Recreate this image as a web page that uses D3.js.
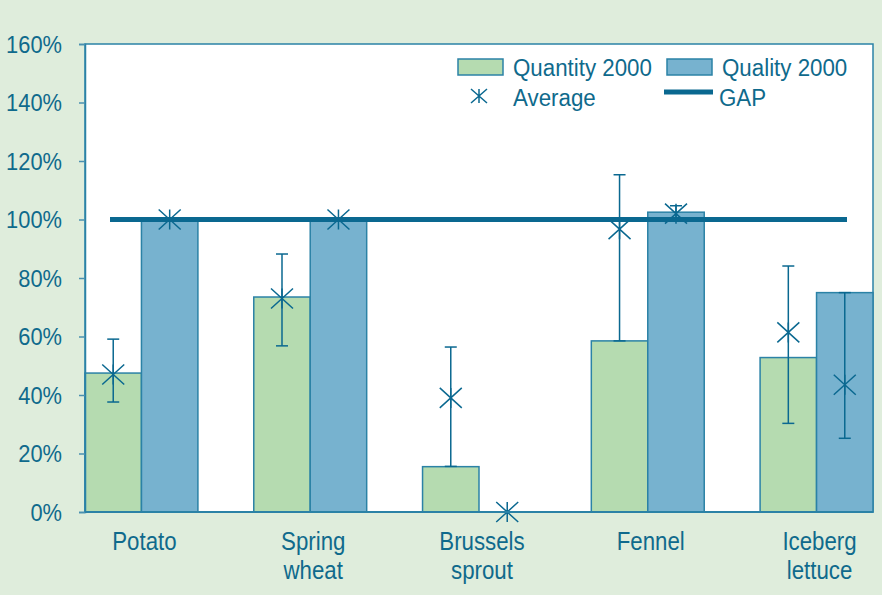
<!DOCTYPE html>
<html>
<head>
<meta charset="utf-8">
<script src="https://cdn.jsdelivr.net/npm/d3@7"></script>
<style>
  html, body { margin: 0; padding: 0; background: #dfeddc; }
  svg { display: block; }
  text { font-family: 'Liberation Sans', Arial, sans-serif; fill: #0f6a8c; }
</style>
</head>
<body>
<svg id="chart" width="882" height="595"></svg>
<script>
const categories = ["Potato", "Spring wheat", "Brussels sprout", "Fennel", "Iceberg lettuce"];
const series = ["Quantity 2000", "Quality 2000"];
const quantity = [47.5, 73.5, 15.5, 58.5, 52.8];
const quality = [100, 100, 0, 102.5, 75];
const quantityAvg = [47, 73, 39, 96.7, 61.4];
const quantityLow = [37.6, 56.8, 15.6, 58.5, 30.3];
const quantityHigh = [59.1, 88.2, 56.4, 115.3, 84.1];
const qualityAvg = [100, 100, 0, 102, 43.5];
const qualityLow = [100, 100, 0, 100, 25.2];
const qualityHigh = [100, 100, 0, 104.7, 75];
const gap = 100;
const yTicks = [0, 20, 40, 60, 80, 100, 120, 140, 160];

const colors = { green: "#b5dbb0", blue: "#77b2cf", stroke: "#2b82a6", dark: "#0a6890", bg: "#dfeddc" };

const svg = d3.select("#chart");
const W = 882, H = 595;
const m = { left: 85, right: 9, top: 44, bottom: 83 };
const pw = W - m.left - m.right, ph = H - m.top - m.bottom;

svg.append("rect").attr("width", W).attr("height", H).attr("fill", colors.bg);

const x = d3.scaleBand().domain(categories).range([m.left, m.left + pw]).paddingInner(0.331).paddingOuter(0).align(0);
const xs = d3.scaleBand().domain(series).range([0, x.bandwidth()]);
const y = d3.scaleLinear().domain([0, 160]).range([m.top + ph, m.top]);

// condensed text helper
function ctext(parent, tx, ty, str, size, sx, anchor) {
  const gg = parent.append("g").attr("transform", `translate(${tx},${ty}) scale(${sx},1)`);
  gg.append("text").attr("font-size", size).attr("text-anchor", anchor || "start").text(str);
  return gg;
}

// plot area
svg.append("rect").attr("x", m.left).attr("y", m.top).attr("width", pw).attr("height", ph)
  .attr("fill", "#fff").attr("stroke", colors.stroke).attr("stroke-width", 1.5);

const rows = categories.map((c, i) => ({
  c, vals: [
    { s: series[0], v: quantity[i], avg: quantityAvg[i], lo: quantityLow[i], hi: quantityHigh[i], fill: colors.green },
    { s: series[1], v: quality[i], avg: qualityAvg[i], lo: qualityLow[i], hi: qualityHigh[i], fill: colors.blue }
  ]
}));

const g = svg.selectAll("g.cat").data(rows).join("g").attr("class", "cat")
  .attr("transform", d => `translate(${x(d.c)},0)`);

g.selectAll("rect.bar").data(d => d.vals).join("rect").attr("class", "bar")
  .attr("x", d => xs(d.s)).attr("width", xs.bandwidth())
  .attr("y", d => y(d.v)).attr("height", d => y(0) - y(d.v))
  .attr("fill", d => d.fill).attr("stroke", colors.stroke).attr("stroke-width", 1.5);

// GAP line
svg.append("line").attr("x1", x.range()[0] + 25).attr("x2", x.range()[1] - 26)
  .attr("y1", y(gap)).attr("y2", y(gap)).attr("stroke", colors.dark).attr("stroke-width", 5);

// error bars
const eb = g.selectAll("g.err").data(d => d.vals.filter(v => v.hi > v.lo)).join("g").attr("class", "err")
  .attr("stroke", colors.dark).attr("stroke-width", 1.5);
const cx = d => xs(d.s) + xs.bandwidth() / 2;
eb.append("line").attr("x1", cx).attr("x2", cx).attr("y1", d => y(d.lo)).attr("y2", d => y(d.hi));
eb.append("line").attr("x1", d => cx(d) - 6).attr("x2", d => cx(d) + 6).attr("y1", d => y(d.lo)).attr("y2", d => y(d.lo));
eb.append("line").attr("x1", d => cx(d) - 6).attr("x2", d => cx(d) + 6).attr("y1", d => y(d.hi)).attr("y2", d => y(d.hi));

function star(sel, hw, hh) {
  sel.append("path").attr("fill", "none").attr("stroke", colors.dark).attr("stroke-width", 1.5)
    .attr("d", `M${-hw},${-hh}L${hw},${hh}M${-hw},${hh}L${hw},${-hh}M0,${-hh}L0,${hh}`);
}
g.selectAll("g.avg").data(d => d.vals).join("g").attr("class", "avg")
  .attr("transform", d => `translate(${cx(d)},${y(d.avg)})`)
  .call(star, 11, 10);

// y axis
const tickSx = 0.93;
const yAxis = d3.axisLeft(y).tickValues(yTicks).tickFormat(d => d + "%").tickSize(6).tickPadding(17);
const ya = svg.append("g").attr("transform", `translate(${m.left},0)`).call(yAxis);
ya.select(".domain").attr("stroke", colors.stroke).attr("stroke-width", 1.5);
ya.selectAll(".tick line").attr("stroke", "#4a90b0").attr("stroke-width", 1.5);
ya.selectAll(".tick text").attr("font-size", 23.5).attr("font-family", "'Liberation Sans', Arial, sans-serif")
  .attr("fill", "#0f6a8c").attr("dy", "0.36em")
  .attr("x", -23 / tickSx).attr("transform", `scale(${tickSx},1)`);

// x axis line
svg.append("line").attr("x1", m.left).attr("x2", m.left + pw).attr("y1", y(0)).attr("y2", y(0))
  .attr("stroke", colors.stroke).attr("stroke-width", 2);

// x labels
categories.forEach(c => {
  c.split(" ").forEach((p, i) => {
    ctext(svg, x(c) + x.bandwidth() / 2 + 3, y(0) + 38 + i * 29, p, 26.5, 0.84, "middle");
  });
});

// legend
const lg = svg.append("g");
const legendItems = [
  { type: "rect", fill: colors.green, label: series[0], lx: 458, ly: 67 },
  { type: "rect", fill: colors.blue, label: series[1], lx: 667, ly: 67 },
  { type: "star", label: "Average", lx: 458, ly: 96 },
  { type: "line", label: "GAP", lx: 664, ly: 92 }
];
legendItems.forEach(it => {
  const gi = lg.append("g").attr("transform", `translate(${it.lx},${it.ly})`);
  if (it.type === "rect") {
    gi.append("rect").attr("x", 0).attr("y", -8).attr("width", 45).attr("height", 16)
      .attr("fill", it.fill).attr("stroke", colors.stroke).attr("stroke-width", 1.5);
  } else if (it.type === "star") {
    gi.append("g").attr("transform", "translate(21,0)").call(star, 8, 7);
  } else {
    gi.append("line").attr("x1", 0).attr("x2", 49).attr("y1", 0).attr("y2", 0)
      .attr("stroke", colors.dark).attr("stroke-width", 5);
  }
  const ty = it.type === "rect" ? 9 : (it.type === "star" ? 10 : 14);
  ctext(gi, it.type === "line" ? 55 : 55, ty, it.label, 23.5, 0.95, "start");
});
</script>
</body>
</html>
